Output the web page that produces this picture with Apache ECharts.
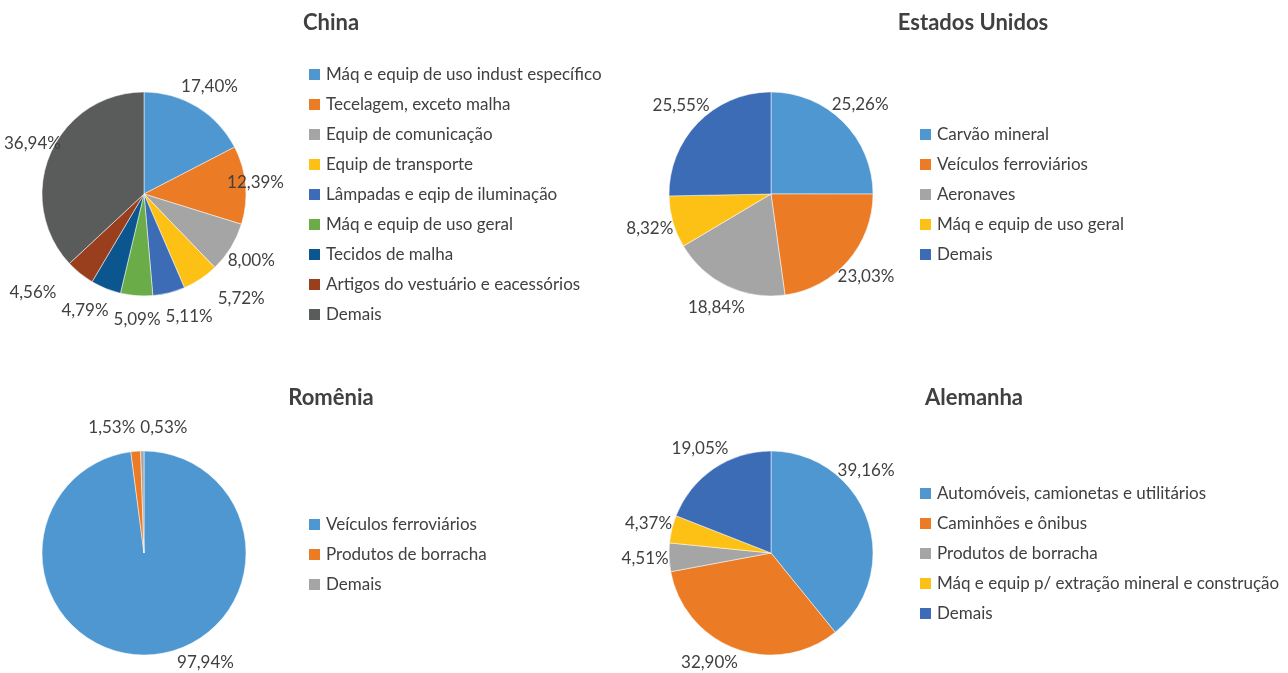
<!DOCTYPE html>
<html>
<head>
<meta charset="utf-8">
<script src="https://cdn.jsdelivr.net/npm/echarts@6/dist/echarts.min.js"></script>
<style>
  html, body { margin: 0; padding: 0; background: #fff; }
  .q { position: absolute; left: 0; top: 0; width: 1288px; height: 673px; }
</style>
</head>
<body>
<div id="china" class="q"></div>
<div id="eua" class="q"></div>
<div id="romenia" class="q"></div>
<div id="alemanha" class="q"></div>
<script>
// dados (participação %)
const chinaCats = ['Máq e equip de uso indust específico', 'Tecelagem, exceto malha', 'Equip de comunicação',
  'Equip de transporte', 'Lâmpadas e eqip de iluminação', 'Máq e equip de uso geral', 'Tecidos de malha',
  'Artigos do vestuário e eacessórios', 'Demais'];
const chinaVals = [17.40, 12.39, 8.00, 5.72, 5.11, 5.09, 4.79, 4.56, 36.94];

const euaCats = ['Carvão mineral', 'Veículos ferroviários', 'Aeronaves', 'Máq e equip de uso geral', 'Demais'];
const euaVals = [25.26, 23.03, 18.84, 8.32, 25.55];

const romeniaCats = ['Veículos ferroviários', 'Produtos de borracha', 'Demais'];
const romeniaVals = [97.94, 1.53, 0.53];

const alemanhaCats = ['Automóveis, camionetas e utilitários', 'Caminhões e ônibus', 'Produtos de borracha',
  'Máq e equip p/ extração mineral e construção', 'Demais'];
const alemanhaVals = [39.16, 32.90, 4.51, 4.37, 19.05];

const palette = ['#4E97D1', '#EB7B24', '#A5A5A5', '#FDC014', '#3B6CB5', '#6AAC47', '#0B568E', '#9A3F1E', '#5A5C5B'];
const paletteEua = ['#4E97D1', '#EB7B24', '#A5A5A5', '#FDC014', '#3B6CB5'];

const FONT = 'Lato, "Open Sans", sans-serif';
const TXT = '#404040';
const RADIUS = 102;
const LABEL_DIST = 126;  // distância centro da pizza -> centro do rótulo
const LABEL_FS = 17;
const LABEL_H = 20;

const measureCtx = document.createElement('canvas').getContext('2d');
measureCtx.font = LABEL_FS + 'px ' + FONT;

function fmt(v) {
  return v.toFixed(2).replace('.', ',') + '%';
}

function spotAt(center, ang) {
  return [center[0] + LABEL_DIST * Math.sin(ang), center[1] - LABEL_DIST * Math.cos(ang)];
}

// qual borda o rótulo ultrapassa (ângulo do eixo dessa borda) ou null
function violated(s, b) {
  if (s.x + s.w / 2 > b[1]) return Math.PI / 2;
  if (s.x - s.w / 2 < b[0]) return Math.PI * 1.5;
  if (s.y + LABEL_H / 2 > b[3]) return Math.PI;
  if (s.y - LABEL_H / 2 < b[2]) return 0;
  return null;
}

// rótulos fora da fatia, no ângulo médio; ajusta quando saem da área
function labelSpots(vals, center, bounds, mode) {
  const total = vals.reduce((a, b) => a + b, 0);
  let acc = 0;
  const spots = vals.map(v => {
    let ang = (acc + v / 2) / total * Math.PI * 2;
    acc += v;
    const s = { w: measureCtx.measureText(fmt(v)).width };
    [s.x, s.y] = spotAt(center, ang);
    if (mode === 'rotate') {
      let axis = violated(s, bounds);
      if (axis !== null) {
        let d = ang - axis;
        d = Math.atan2(Math.sin(d), Math.cos(d));
        const step = (d >= 0 ? 1 : -1) * Math.PI / 360;
        for (let k = 0; k < 180 && violated(s, bounds) !== null; k++) {
          ang += step;
          [s.x, s.y] = spotAt(center, ang);
        }
      }
    }
    return s;
  });
  for (let k = 0; k < 30; k++) {
    for (let i = 0; i < spots.length; i++) {
      for (let j = i + 1; j < spots.length; j++) {
        const a = spots[i], b = spots[j];
        const ox = (a.w + b.w) / 2 + 5 - Math.abs(a.x - b.x);
        const oy = LABEL_H - Math.abs(a.y - b.y);
        if (ox > 0 && oy > 0) {
          const s = a.x <= b.x ? -1 : 1;
          a.x += s * ox / 2;
          b.x -= s * ox / 2;
        }
      }
    }
  }
  spots.forEach(s => {
    s.x = Math.min(Math.max(s.x, bounds[0] + s.w / 2), bounds[1] - s.w / 2);
    s.y = Math.min(Math.max(s.y, bounds[2] + LABEL_H / 2), bounds[3] - LABEL_H / 2);
  });
  return spots;
}

function drawPie(id, title, cats, vals, colors, cfg) {
  const chart = echarts.init(document.getElementById(id), null, { renderer: 'canvas' });
  const spots = labelSpots(vals, cfg.center, cfg.bounds, cfg.fit);
  chart.setOption({
    animation: false,
    color: colors,
    textStyle: { fontFamily: FONT },
    title: {
      text: title,
      left: cfg.titleX,
      top: cfg.titleTop,
      padding: 0,
      textAlign: 'center',
      textStyle: { fontFamily: FONT, fontSize: 22, fontWeight: 'bold', color: TXT }
    },
    legend: {
      orient: 'vertical',
      left: cfg.legendX,
      top: cfg.legendTop,
      padding: 0,
      icon: 'rect',
      itemWidth: 13,
      itemHeight: 13,
      itemGap: 13,
      selectedMode: false,
      textStyle: { fontFamily: FONT, fontSize: 17, lineHeight: 17, color: TXT },
      data: cats
    },
    series: [{
      type: 'pie',
      center: cfg.center,
      radius: RADIUS,
      startAngle: 90,
      clockwise: true,
      avoidLabelOverlap: false,
      itemStyle: { borderColor: '#fff', borderWidth: 0.5 },
      label: {
        show: true,
        position: 'outside',
        formatter: p => fmt(p.value),
        fontFamily: FONT,
        fontSize: LABEL_FS,
        color: TXT,
        overflow: 'none'
      },
      labelLine: { show: false },
      labelLayout: p => ({
        x: spots[p.dataIndex].x,
        y: spots[p.dataIndex].y,
        align: 'center',
        verticalAlign: 'middle'
      }),
      data: cats.map((c, i) => ({ name: c, value: vals[i] }))
    }]
  });
}

drawPie('china', 'China', chinaCats, chinaVals, palette,
  { titleX: 331, titleTop: 12, legendX: 307, legendTop: 66, center: [144, 194],
    bounds: [4, 284, 40, 340], fit: 'clamp' });
drawPie('eua', 'Estados Unidos', euaCats, euaVals, paletteEua,
  { titleX: 973, titleTop: 12, legendX: 918, legendTop: 126, center: [771, 194],
    bounds: [610, 900, 40, 340], fit: 'clamp' });
drawPie('romenia', 'Romênia', romeniaCats, romeniaVals, palette,
  { titleX: 331, titleTop: 387, legendX: 307, legendTop: 516, center: [144, 553],
    bounds: [4, 284, 415, 673], fit: 'rotate' });
drawPie('alemanha', 'Alemanha', alemanhaCats, alemanhaVals, paletteEua,
  { titleX: 974, titleTop: 387, legendX: 918, legendTop: 485, center: [771, 553],
    bounds: [610, 895, 415, 673], fit: 'rotate' });
</script>
</body>
</html>
